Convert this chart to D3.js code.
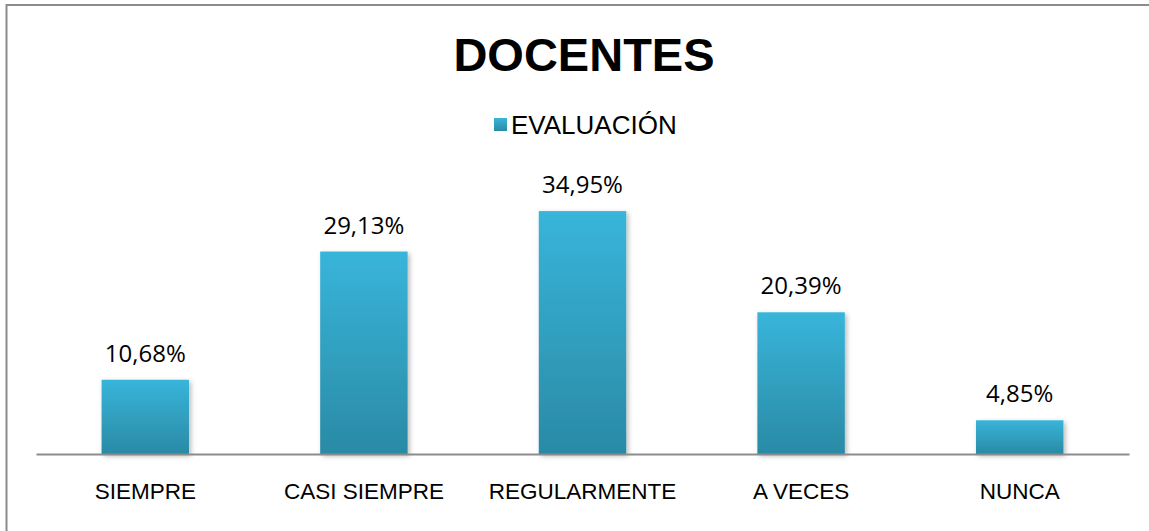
<!DOCTYPE html>
<html>
<head>
<meta charset="utf-8">
<script src="https://cdn.jsdelivr.net/npm/d3@7"></script>
<style>
  html, body { margin: 0; padding: 0; background: #fff; }
  svg { display: block; }
</style>
</head>
<body>
<svg id="chart" width="1149" height="531"></svg>
<script>
const categories = ["SIEMPRE", "CASI SIEMPRE", "REGULARMENTE", "A VECES", "NUNCA"];
const values = [10.68, 29.13, 34.95, 20.39, 4.85];
const valueLabels = ["10,68%", "29,13%", "34,95%", "20,39%", "4,85%"];
const seriesName = "EVALUACIÓN";
const title = "DOCENTES";

const svg = d3.select("#chart");
const W = 1149, H = 531;

// frame border
svg.append("line").attr("x1", 6.5).attr("x2", 6.5).attr("y1", 4).attr("y2", H)
  .attr("stroke", "#8c8c8c").attr("stroke-width", 2);
svg.append("line").attr("x1", 6).attr("x2", W).attr("y1", 5).attr("y2", 5)
  .attr("stroke", "#8c8c8c").attr("stroke-width", 2);

const defs = svg.append("defs");
const grad = defs.append("linearGradient").attr("id", "barGrad")
  .attr("x1", 0).attr("y1", 0).attr("x2", 0).attr("y2", 1);
grad.append("stop").attr("offset", "0%").attr("stop-color", "#38b5da");
grad.append("stop").attr("offset", "100%").attr("stop-color", "#2a8aa5");

const filt = defs.append("filter").attr("id", "shadow")
  .attr("x", "-10%").attr("y", "-10%").attr("width", "130%").attr("height", "130%");
filt.append("feDropShadow").attr("dx", 2).attr("dy", 2).attr("stdDeviation", 2.5)
  .attr("flood-color", "#000").attr("flood-opacity", 0.28);

const x = d3.scaleBand().domain(categories).range([36, 1129])
  .paddingInner(0.6).paddingOuter(0.3);
const y = d3.scaleLinear().domain([0, 40]).range([454, 176]);

// title
svg.append("text").attr("x", 584).attr("y", 71).attr("text-anchor", "middle")
  .attr("font-family", "Liberation Sans, Arial, sans-serif").attr("font-weight", "bold")
  .attr("font-size", 47).attr("fill", "#000").text(title);

// legend
svg.append("rect").attr("x", 494).attr("y", 118).attr("width", 13).attr("height", 13)
  .attr("fill", "url(#barGrad)");
svg.append("text").attr("x", 511).attr("y", 134)
  .attr("font-family", "Liberation Sans, Arial, sans-serif")
  .attr("font-size", 26).attr("fill", "#000").text(seriesName);

// bars
svg.append("g").selectAll("rect").data(values).join("rect")
  .attr("x", (d, i) => x(categories[i]))
  .attr("y", d => y(d))
  .attr("width", x.bandwidth())
  .attr("height", d => y(0) - y(d))
  .attr("fill", "url(#barGrad)")
  .attr("filter", "url(#shadow)");

// axis
const axis = d3.axisBottom(x).tickSize(0).tickPadding(29);
const gx = svg.append("g").attr("transform", `translate(0,${y(0)})`).call(axis);
gx.select(".domain").attr("stroke", "#8c8c8c").attr("stroke-width", 2);
gx.selectAll("text").attr("font-family", "Liberation Sans, Arial, sans-serif")
  .attr("font-size", 22.5).attr("fill", "#000");

// value labels
svg.append("g").selectAll("text").data(values).join("text")
  .attr("x", (d, i) => x(categories[i]) + x.bandwidth() / 2)
  .attr("y", d => y(d) - 18)
  .attr("text-anchor", "middle")
  .attr("font-family", "Open Sans, sans-serif")
  .attr("font-size", 24).attr("fill", "#000")
  .text((d, i) => valueLabels[i]);
</script>
</body>
</html>
